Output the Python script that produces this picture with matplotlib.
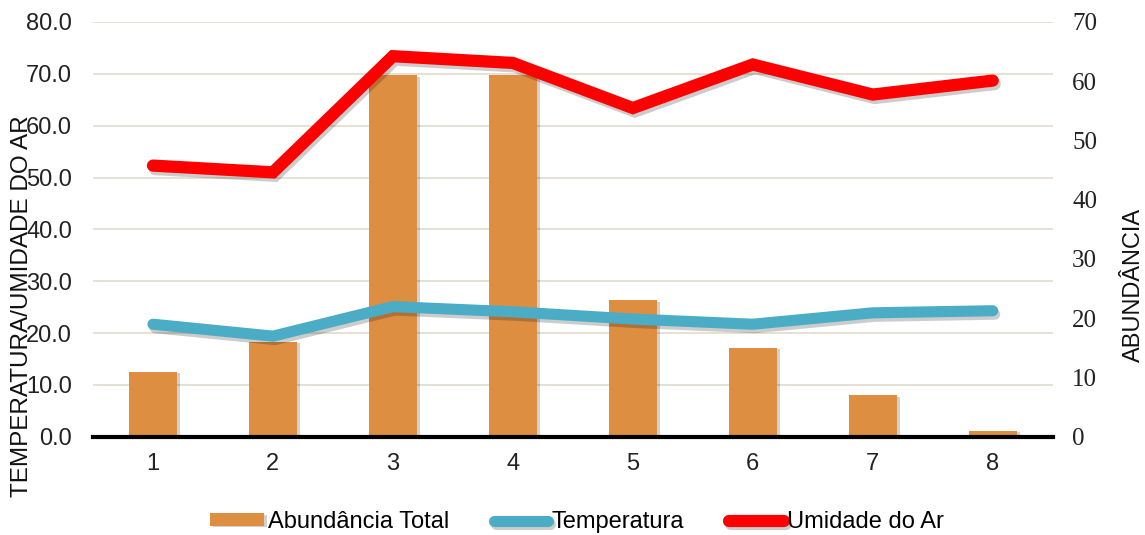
import numpy as np
import matplotlib
matplotlib.use("Agg")
import matplotlib.pyplot as plt
import matplotlib.patheffects as pe

plt.rcParams['font.family'] = ['Liberation Sans', 'DejaVu Sans']

# Sampling points and measurements
pontos = [1, 2, 3, 4, 5, 6, 7, 8]
abundancia = [11, 16, 61, 61, 23, 15, 7, 1]
temperatura = [21.7, 19.4, 25.1, 24.1, 22.7, 21.7, 23.9, 24.3]
umidade = [52.3, 51.0, 73.4, 72.1, 63.4, 71.8, 66.0, 68.7]

cor_barra = '#DE8E41'
cor_temp = '#4BACC6'
cor_umid = '#FF0000'
cor_grade = '#E3DFD0'

fig = plt.figure(figsize=(11.45, 5.35), dpi=100)
ax = fig.add_axes([0.0812, 0.1837, 0.8382, 0.7752])
ax2 = ax.twinx()

# bars go on the right axis, drawn underneath the lines
ax.set_zorder(ax2.get_zorder() + 1)
ax.patch.set_visible(False)

x = np.array(pontos)
barras = ax2.bar(x, abundancia, width=0.4, color=cor_barra, label='Abundância Total', zorder=3)
for b in barras:
    b.set_path_effects([pe.SimplePatchShadow(offset=(2, -1), shadow_rgbFace='k', alpha=0.18), pe.Normal()])

sombra = [pe.SimpleLineShadow(offset=(1.5, -2.5), shadow_color='k', alpha=0.2), pe.Normal()]
l1, = ax.plot(x, temperatura, color=cor_temp, lw=8, solid_capstyle='round',
              solid_joinstyle='miter', label='Temperatura', path_effects=sombra)
l2, = ax.plot(x, umidade, color=cor_umid, lw=8.8, solid_capstyle='round',
              solid_joinstyle='miter', label='Umidade do Ar', path_effects=sombra)

ax.set_xlim(0.5, 8.5)
ax.set_ylim(0, 80)
ax2.set_ylim(0, 70)

ax.set_yticks(np.arange(0, 81, 10))
ax.set_yticklabels([f'{v:.1f}' for v in np.arange(0, 81, 10)])
ax2.set_yticks(np.arange(0, 71, 10))
ax.set_xticks(pontos)

# horizontal grid on the bar axis so it sits behind the bars
ax2.yaxis.remove_overlapping_locs = False
ax2.set_yticks(np.linspace(0, 70, 9), minor=True)
ax2.grid(which='minor', axis='y', color=cor_grade, lw=1.3, zorder=0)
ax2.set_axisbelow(True)

for a in (ax, ax2):
    for s in ['top', 'left', 'right']:
        a.spines[s].set_visible(False)
ax2.spines['bottom'].set_visible(False)
ax.spines['bottom'].set_color('black')
ax.spines['bottom'].set_linewidth(3)
ax.spines['bottom'].set_zorder(5)

ax.tick_params(axis='y', length=0, pad=15, labelsize=17, labelcolor='#222222')
ax.tick_params(axis='x', length=0, pad=12, labelsize=17, labelcolor='#222222')
ax2.tick_params(axis='y', which='both', length=0, pad=14, labelsize=18, labelcolor='#222222')
for t in ax2.get_yticklabels():
    t.set_fontfamily('Liberation Serif')

fig.text(22 / 1145, 1 - 306 / 535, 'TEMPERATURA/UMIDADE DO AR', rotation=90,
         ha='center', va='center', fontsize=17.5, color='#111111')
fig.text(1134 / 1145, 1 - 285 / 535, 'ABUNDÂNCIA', rotation=90,
         ha='center', va='center', fontsize=17, color='#111111')

fig.legend(handles=[barras, l1, l2], loc='center', bbox_to_anchor=(577 / 1145, 1 - 522 / 535),
           ncol=3, frameon=False, fontsize=17, handlelength=2.3, handletextpad=0.15,
           columnspacing=1.9, handleheight=0.45)

fig.savefig('out.png', dpi=100)
